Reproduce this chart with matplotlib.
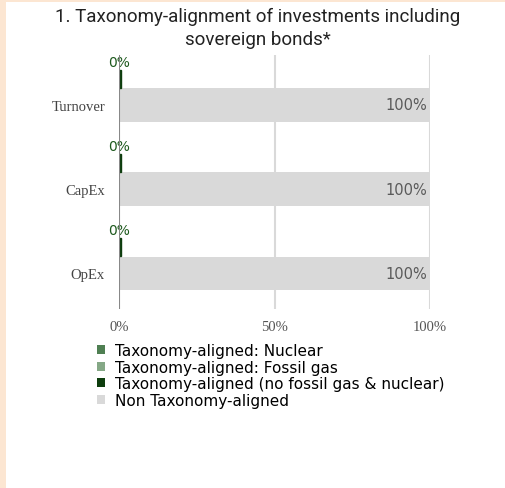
import matplotlib
matplotlib.use('Agg')
import matplotlib.pyplot as plt
from matplotlib.patches import Rectangle, Patch

# chart data
categories = ['Turnover', 'CapEx', 'OpEx']
nuclear = [0, 0, 0]
fossil_gas = [0, 0, 0]
aligned_other = [0, 0, 0]
non_aligned = [100, 100, 100]
aligned_labels = ['0%', '0%', '0%']
non_aligned_labels = ['100%', '100%', '100%']

legend_labels = ['Taxonomy-aligned: Nuclear',
                 'Taxonomy-aligned: Fossil gas',
                 'Taxonomy-aligned (no fossil gas & nuclear)',
                 'Non Taxonomy-aligned']
colors = ['#4f7f52', '#85a886', '#0d3d0d', '#d9d9d9']

W, H = 505, 489
fig = plt.figure(figsize=(W / 100, H / 100), dpi=100)
fig.patch.set_facecolor('#fce6d2')
fig.patches.append(Rectangle((6 / W, 0), 1, 1 - 3 / H, transform=fig.transFigure,
                             facecolor='white', edgecolor='none', zorder=-10))

fig.text(0.511, 1 - 28.5 / H,
         '1. Taxonomy-alignment of investments including\nsovereign bonds*',
         ha='center', va='center', fontsize=13.5, family='Roboto', color='#222222',
         linespacing=1.3)

ax = fig.add_axes([119 / W, 1 - 310 / H, (430 - 119) / W, (310 - 56) / H])
ax.set_facecolor('none')

pos = list(range(len(categories)))
off = -0.31
# small aligned bars (stacked, all zero) drawn just above the main bars
left = [0, 0, 0]
for vals, c in zip([nuclear, fossil_gas, aligned_other], colors[:3]):
    ax.barh([p + off for p in pos], [max(v, 0.5) if c == colors[2] else v for v in vals],
            left=left, height=0.21, color=c, edgecolor='#0d3d0d', linewidth=1.0, zorder=3)
    left = [l + v for l, v in zip(left, vals)]
ax.barh(pos, non_aligned, height=0.40, color=colors[3], zorder=2)

for p, lab in zip(pos, aligned_labels):
    ax.text(0, p - 0.51, lab, ha='center', va='center', fontsize=10,
            family='DejaVu Sans', color='#1e5a1e', zorder=4)
for p, v, lab in zip(pos, non_aligned, non_aligned_labels):
    ax.text(v - 1, p, lab, ha='right', va='center', fontsize=10.5,
            family='DejaVu Sans', color='#5a5a5a', zorder=4)

ax.set_xlim(0, 100)
ax.set_ylim(2.422, -0.593)
ax.set_xticks([0, 50, 100])
ax.set_xticklabels(['0%', '50%', '100%'], family='Liberation Serif', fontsize=10.5, color='#555555')
ax.set_yticks(pos)
ax.set_yticklabels(categories, family='Liberation Serif', fontsize=10.5, color='#444444')
ax.tick_params(length=0, axis='x', pad=8)
ax.tick_params(length=0, axis='y', pad=10)
for s in ax.spines.values():
    s.set_visible(False)
for x in [50, 100]:
    ax.axvline(x, color='#d9d9d9', linewidth=1.5, zorder=1)
ax.axvline(0, color='#888888', linewidth=1.5, zorder=5)

handles = [Patch(facecolor=c, edgecolor='none') for c in colors]
fig.legend(handles, legend_labels, loc='upper left', bbox_to_anchor=(97 / W, 1 - 344 / H),
           frameon=False, handlelength=0.55, handleheight=0.55, handletextpad=0.6,
           labelspacing=0.1, fontsize=11, borderpad=0, borderaxespad=0)

fig.savefig('out.png', dpi=100, facecolor=fig.get_facecolor())
